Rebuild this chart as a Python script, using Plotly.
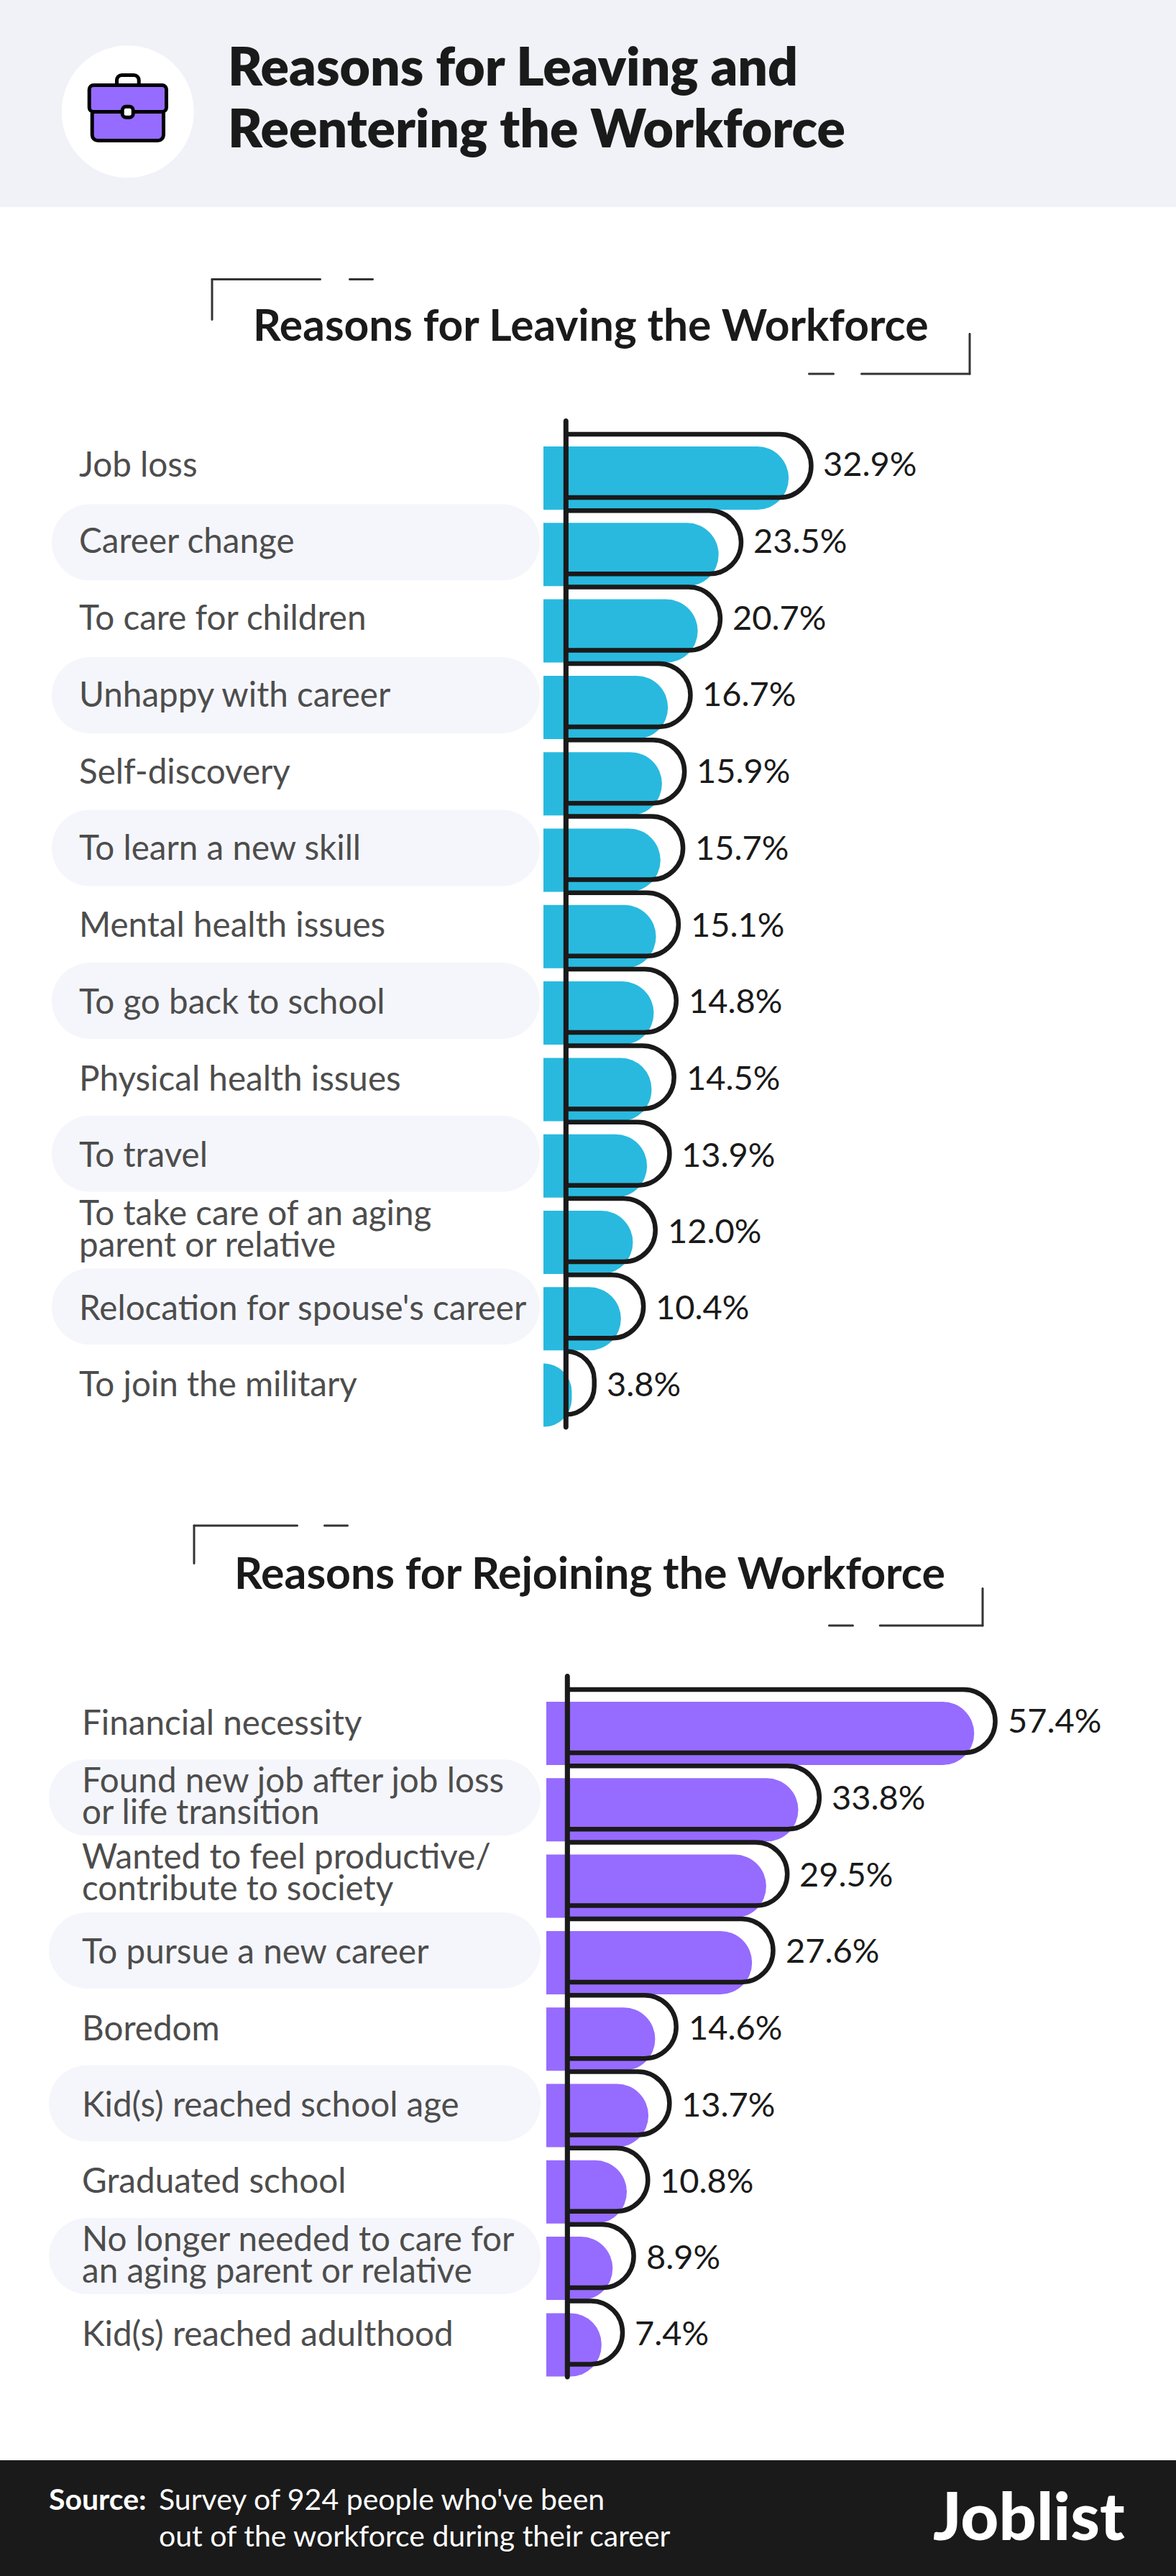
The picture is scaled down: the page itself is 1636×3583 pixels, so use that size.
import plotly.graph_objects as go

W, H = 1636, 3583

# ---------- data ----------
leaving_labels = ["Job loss", "Career change", "To care for children", "Unhappy with career",
                  "Self-discovery", "To learn a new skill", "Mental health issues",
                  "To go back to school", "Physical health issues", "To travel",
                  "To take care of an aging\nparent or relative",
                  "Relocation for spouse's career", "To join the military"]
leaving_values = [32.9, 23.5, 20.7, 16.7, 15.9, 15.7, 15.1, 14.8, 14.5, 13.9, 12.0, 10.4, 3.8]

rejoin_labels = ["Financial necessity", "Found new job after job loss\nor life transition",
                 "Wanted to feel productive/\ncontribute to society", "To pursue a new career",
                 "Boredom", "Kid(s) reached school age", "Graduated school",
                 "No longer needed to care for\nan aging parent or relative",
                 "Kid(s) reached adulthood"]
rejoin_values = [57.4, 33.8, 29.5, 27.6, 14.6, 13.7, 10.8, 8.9, 7.4]

title_lines = ["Reasons for Leaving and", "Reentering the Workforce"]
leaving_title = "Reasons for Leaving the Workforce"
rejoin_title = "Reasons for Rejoining the Workforce"
source_label = "Source:"
source_lines = ["Survey of 924 people who've been", "out of the workforce during their career"]
brand = "Joblist"

BLUE, PURPLE, INK, GREY = "#29b9df", "#966bff", "#1a1a1a", "#4d4d4d"
HEAD_BG, PILL_BG = "#f0f2f7", "#f5f6fb"

PX_PER_UNIT = 10.37
ROW = 106.3
BAR_H = 88.0
DROP = 17.0
X_RANGE = 80.0


def X(p):
    return p / W


def Y(p):
    return 1 - p / H


def rrect(x0, y0, x1, y1, r):
    k = r * 0.448
    pts = [
        f"M{X(x0 + r)},{Y(y0)}", f"L{X(x1 - r)},{Y(y0)}",
        f"C{X(x1 - k)},{Y(y0)} {X(x1)},{Y(y0 + k)} {X(x1)},{Y(y0 + r)}",
        f"L{X(x1)},{Y(y1 - r)}",
        f"C{X(x1)},{Y(y1 - k)} {X(x1 - k)},{Y(y1)} {X(x1 - r)},{Y(y1)}",
        f"L{X(x0 + r)},{Y(y1)}",
        f"C{X(x0 + k)},{Y(y1)} {X(x0)},{Y(y1 - k)} {X(x0)},{Y(y1 - r)}",
        f"L{X(x0)},{Y(y0 + r)}",
        f"C{X(x0)},{Y(y0 + k)} {X(x0 + k)},{Y(y0)} {X(x0 + r)},{Y(y0)}Z",
    ]
    return "".join(pts)


shapes, annotations = [], []


def box(x0, y0, x1, y1, r=0, fill=INK, line=None, lw=0, layer="above"):
    shapes.append(dict(type="path", path=rrect(x0, y0, x1, y1, r), xref="paper", yref="paper",
                       fillcolor=fill, line=dict(color=line or "rgba(0,0,0,0)", width=lw),
                       layer=layer))


def ptext(text, x, y, size, color=INK, weight=400, anchor="left"):
    annotations.append(dict(text=text, x=X(x), y=Y(y), xref="paper", yref="paper",
                            xanchor=anchor, yanchor="middle", showarrow=False,
                            font=dict(family="Lato", size=size, color=color, weight=weight)))


def bracket(l, t, r, b, h1, d0, d1, v1, rv, rh, rd0, rd1):
    c = "#333333"
    box(l - 1.5, t - 1.5, h1, t + 1.5, 1.5, c)
    box(d0, t - 1.5, d1, t + 1.5, 1.5, c)
    box(l - 1.5, t - 1.5, l + 1.5, v1, 1.5, c)
    box(r - 1.5, rv, r + 1.5, b + 1.5, 1.5, c)
    box(rh, b - 1.5, r + 1.5, b + 1.5, 1.5, c)
    box(rd0, b - 1.5, rd1, b + 1.5, 1.5, c)


# ---------- header and footer ----------
box(0, 0, W, 288, 0, HEAD_BG, layer="below")
box(0, 3422, W, H, 0, INK, layer="below")
box(85.7, 63.3, 269.7, 247.3, 92, "#ffffff", layer="below")
box(162.5, 104.5, 193.2, 125, 7, "#ffffff", "#000000", 5)
box(128.2, 150, 227.5, 195.5, 8, PURPLE, "#000000", 5)
box(124.2, 118.5, 231.5, 155.5, 6, PURPLE, "#000000", 5)
box(170.2, 148.2, 185.2, 163.2, 5, "#ffffff", "#000000", 5)
ptext(title_lines[0], 315, 91, 73.2, INK, 800)
ptext(title_lines[1], 315, 177, 73.2, INK, 800)
ptext(source_label, 66, 3475, 41, "#ffffff", 700)
ptext(source_lines[0], 219, 3475, 41, "#ffffff")
ptext(source_lines[1], 219, 3526, 41, "#ffffff")
ptext(brand, 1296, 3497, 92, "#ffffff", 900)

# ---------- section titles ----------
bracket(295, 388.5, 1349, 520, 447, 485, 520, 446, 463, 1197, 1124, 1161)
ptext(leaving_title, 822, 451, 60.5, INK, 700, "center")
bracket(270, 2122, 1367, 2261, 415, 450, 485, 2176, 2208, 1222.7, 1152, 1188)
ptext(rejoin_title, 820, 2186, 60.8, INK, 700, "center")

traces = []
layout_axes = {}


def section(labels, values, color, x0, x_axis, c0, pill_l, pill_r, label_x, xa, ya, xb, lab_up, val_up):
    n = len(labels)
    names = [s.replace("\n", " ") for s in labels]
    top, bottom = c0 - 1.5 * ROW, c0 + (n + 0.5) * ROW
    layout_axes["yaxis" + ya[1:]] = dict(domain=[1 - bottom / H, 1 - top / H], type="category",
                                         categoryorder="array", categoryarray=names,
                                         range=[n + 0.5, -1.5], visible=False, fixedrange=True,
                                         anchor=xa)
    for ax, start in ((xa, x0), (xb, x_axis)):
        layout_axes["xaxis" + ax[1:]] = dict(domain=[start / W, (start + PX_PER_UNIT * X_RANGE) / W],
                                             range=[0, X_RANGE], visible=False, fixedrange=True,
                                             anchor=ya)
    w = BAR_H / ROW
    traces.append(go.Bar(x=values, y=names, orientation="h", xaxis=xa, yaxis=ya,
                         width=w, offset=DROP / ROW - w / 2, cliponaxis=False,
                         marker=dict(color=color, line=dict(width=0), cornerradius=44),
                         hoverinfo="skip", showlegend=False))
    traces.append(go.Bar(x=values, y=names, orientation="h", xaxis=xb, yaxis=ya,
                         width=w, offset=-w / 2, cliponaxis=False,
                         marker=dict(color="rgba(0,0,0,0)", line=dict(color=INK, width=6.5),
                                     cornerradius=44),
                         hoverinfo="skip", showlegend=False))
    for i, (lab, name, v) in enumerate(zip(labels, names, values)):
        if i % 2 == 1:
            cy = c0 + i * ROW
            box(pill_l, cy - 53, pill_r, cy + 53, 53, PILL_BG, layer="below")
        parts = lab.split("\n")
        for j, part in enumerate(parts):
            shift = (len(parts) - 1) * 22 - j * 44 + max(0, lab_up - 0.45 * i)
            if len(parts) > 1:
                shift += 4
            annotations.append(dict(text=part, x=X(label_x), xref="paper", y=name, yref=ya,
                                    xanchor="left", yanchor="middle", yshift=shift, showarrow=False,
                                    font=dict(family="Lato", size=47.6, color=GREY)))
        annotations.append(dict(text=f"{v:.1f}%", x=v, xref=xb, y=name, yref=ya,
                                xanchor="left", yanchor="middle", xshift=15, showarrow=False,
                                yshift=max(0, val_up - 0.45 * i),
                                font=dict(family="Lato", size=47, color=INK)))
    box(x_axis - 3.5, c0 - 66, x_axis + 3.5, c0 + (n - 1) * ROW + 65, 3.5, INK)


section(leaving_labels, leaving_values, BLUE, 756, 787.3, 648, 72, 751, 108, "x", "y", "x3", 4, 4)
section(rejoin_labels, rejoin_values, PURPLE, 760, 789.3, 2394, 68, 752, 112, "x2", "y2", "x4", 0, 2)

fig = go.Figure(traces)
fig.update_layout(width=W, height=H, margin=dict(l=0, r=0, t=0, b=0), autosize=False,
                  paper_bgcolor="#ffffff", plot_bgcolor="rgba(0,0,0,0)", barmode="overlay",
                  showlegend=False, shapes=shapes, annotations=annotations, **layout_axes)
fig.write_html("out.html", config=dict(displayModeBar=False),
               post_script="document.body.style.margin='0';")
